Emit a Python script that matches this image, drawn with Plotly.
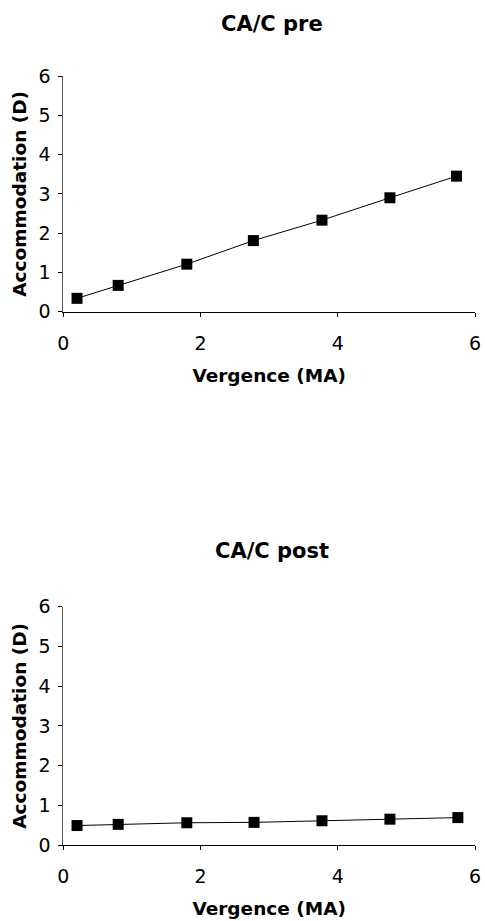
import plotly.graph_objects as go

# Data
vergence_pre = [0.2, 0.8, 1.8, 2.77, 3.77, 4.76, 5.73]
accom_pre = [0.34, 0.67, 1.21, 1.81, 2.33, 2.90, 3.45]
vergence_post = [0.2, 0.8, 1.8, 2.78, 3.77, 4.76, 5.75]
accom_post = [0.49, 0.52, 0.56, 0.57, 0.61, 0.65, 0.69]
tick_vals = [0, 2, 4, 6]
ytick_vals = [0, 1, 2, 3, 4, 5, 6]
titles = ["CA/C pre", "CA/C post"]
x_title = "Vergence (MA)"
y_title = "Accommodation (D)"

W, H = 485, 921
FONT = "DejaVu Sans"

def px_x(p):
    return p / W

def px_y(p):
    return 1 - p / H

xdom = [px_x(63.3), px_x(475)]
ydom_top = [px_y(311.7), px_y(76)]
ydom_bot = [px_y(845), px_y(606.7)]

fig = go.Figure()
fig.add_trace(go.Scatter(x=vergence_pre, y=accom_pre, mode="lines+markers",
                         line=dict(color="black", width=1),
                         marker=dict(symbol="square", size=11, color="black"),
                         xaxis="x", yaxis="y", showlegend=False, cliponaxis=False))
fig.add_trace(go.Scatter(x=vergence_post, y=accom_post, mode="lines+markers",
                         line=dict(color="black", width=1),
                         marker=dict(symbol="square", size=11, color="black"),
                         xaxis="x2", yaxis="y2", showlegend=False, cliponaxis=False))

tickfont = dict(family=FONT, size=19, color="black")
titlefont = dict(family=FONT, size=18.5, color="black", weight="bold")

def xaxis(anchor):
    return dict(domain=xdom, anchor=anchor, range=[0, 6], tickvals=tick_vals,
                showline=True, linecolor="black", linewidth=1, ticks="outside",
                ticklen=4, tickcolor="black", tickwidth=1, showgrid=False,
                zeroline=False, tickfont=tickfont, automargin=False,
                ticklabelstandoff=10,
                title=dict(text=x_title, font=titlefont, standoff=16))

def yaxis(anchor, dom):
    return dict(domain=dom, anchor=anchor, range=[0, 6], tickvals=ytick_vals,
                showline=True, linecolor="#555", linewidth=1, ticks="outside",
                ticklen=4, tickcolor="black", tickwidth=1, showgrid=False,
                zeroline=False, tickfont=tickfont, automargin=False,
                ticklabelstandoff=4,
                title=dict(text=y_title, font=titlefont, standoff=6))

def x_inner(over, anchor):
    return dict(domain=xdom, overlaying=over, anchor=anchor, matches=over,
                range=[0, 6], tickvals=tick_vals, showticklabels=False,
                ticks="inside", ticklen=4, tickcolor="black", tickwidth=1,
                showline=False, showgrid=False, zeroline=False, automargin=False)

def y_inner(over, anchor, dom):
    return dict(domain=dom, overlaying=over, anchor=anchor, matches=over,
                range=[0, 6], tickvals=ytick_vals, showticklabels=False,
                ticks="inside", ticklen=4, tickcolor="black", tickwidth=1,
                showline=False, showgrid=False, zeroline=False, automargin=False)

fig.update_layout(
    width=W, height=H,
    margin=dict(l=0, r=0, t=0, b=0),
    paper_bgcolor="white", plot_bgcolor="white",
    xaxis=xaxis("y"),
    yaxis=yaxis("x", ydom_top),
    xaxis2=xaxis("y2"),
    yaxis2=yaxis("x2", ydom_bot),
    xaxis3=x_inner("x", "y"),
    yaxis3=y_inner("y", "x", ydom_top),
    xaxis4=x_inner("x2", "y2"),
    yaxis4=y_inner("y2", "x2", ydom_bot),
    font=dict(family=FONT, color="black"),
)

for title, ypix in zip(titles, [24, 551]):
    fig.add_annotation(text=title, x=0.5 * (xdom[0] + xdom[1]) + 0.005, y=px_y(ypix),
                       xref="paper", yref="paper", showarrow=False,
                       font=dict(family=FONT, size=21, color="black", weight="bold"),
                       xanchor="center", yanchor="middle")

fig.write_html("out.html")
